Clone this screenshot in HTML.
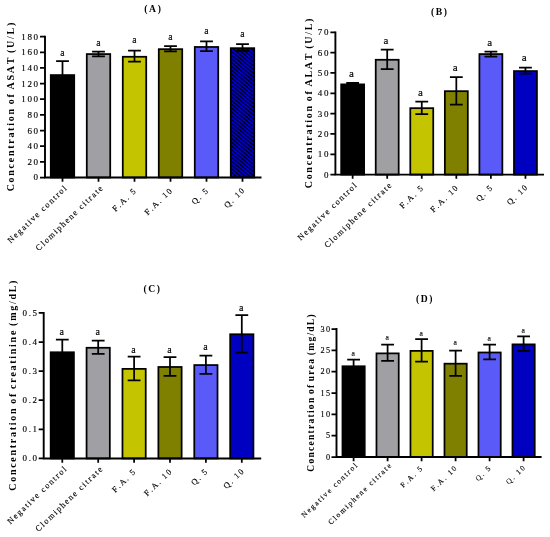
<!DOCTYPE html>
<html><head><meta charset="utf-8"><title>Figure</title>
<style>
html,body{margin:0;padding:0;background:#fff;}
svg{display:block;will-change:transform;}
text{font-family:"Liberation Serif",serif;font-kerning:none;fill:#000;stroke:#000;stroke-width:0.14px;}
.b{font-weight:bold;stroke:none;}
</style></head><body>
<svg width="550" height="537" viewBox="0 0 550 537">
<defs>
<pattern id="hatch" width="2.9" height="2.9" patternUnits="userSpaceOnUse" patternTransform="rotate(40)">
<rect width="2.9" height="2.9" fill="#0000f0"/><rect width="2.9" height="1.35" fill="#000"/>
</pattern>
</defs>
<rect width="550" height="537" fill="#fff"/>

<g id="panelA">
<rect x="50.77" y="75.08" width="23.45" height="102.42" fill="#000000" stroke="#000" stroke-width="1.75"/>
<path d="M62.5 61V76.2M56.1 61H68.9" stroke="#000" stroke-width="1.75" fill="none"/>
<text x="62.5" y="56" font-size="9.6" text-anchor="middle">a</text>
<rect x="86.78" y="54.08" width="23.45" height="123.42" fill="#a0a0a4" stroke="#000" stroke-width="1.75"/>
<path d="M98.5 51.6V56.3M92.1 51.6H104.9M92.1 56.3H104.9" stroke="#000" stroke-width="1.75" fill="none"/>
<text x="98.5" y="46" font-size="9.6" text-anchor="middle">a</text>
<rect x="122.78" y="56.77" width="23.45" height="120.72" fill="#c4c400" stroke="#000" stroke-width="1.75"/>
<path d="M134.5 50.5V61.6M128.1 50.5H140.9M128.1 61.6H140.9" stroke="#000" stroke-width="1.75" fill="none"/>
<text x="134.5" y="43.2" font-size="9.6" text-anchor="middle">a</text>
<rect x="158.78" y="49.17" width="23.45" height="128.32" fill="#808000" stroke="#000" stroke-width="1.75"/>
<path d="M170.5 46V51.3M164.1 46H176.9M164.1 51.3H176.9" stroke="#000" stroke-width="1.75" fill="none"/>
<text x="170.5" y="39.6" font-size="9.6" text-anchor="middle">a</text>
<rect x="194.78" y="46.98" width="23.45" height="130.53" fill="#5a5af8" stroke="#000" stroke-width="1.75"/>
<path d="M206.5 41.4V51.2M200.1 41.4H212.9M200.1 51.2H212.9" stroke="#000" stroke-width="1.75" fill="none"/>
<text x="206.5" y="34" font-size="9.6" text-anchor="middle">a</text>
<rect x="230.78" y="48.17" width="23.45" height="129.32" fill="url(#hatch)" stroke="#000" stroke-width="1.75"/>
<path d="M242.5 44.1V50.8M236.1 44.1H248.9M236.1 50.8H248.9" stroke="#000" stroke-width="1.75" fill="none"/>
<text x="242.5" y="37.1" font-size="9.6" text-anchor="middle">a</text>
<path d="M45 35.73V177.5H261.5" stroke="#000" stroke-width="1.9" fill="none" stroke-linejoin="miter"/>
<text x="39.6" y="180.47" font-size="9" letter-spacing="1.6" text-anchor="end">0</text>
<text x="39.6" y="164.81" font-size="9" letter-spacing="1.6" text-anchor="end">20</text>
<text x="39.6" y="149.16" font-size="9" letter-spacing="1.6" text-anchor="end">40</text>
<text x="39.6" y="133.5" font-size="9" letter-spacing="1.6" text-anchor="end">60</text>
<text x="39.6" y="117.85" font-size="9" letter-spacing="1.6" text-anchor="end">80</text>
<text x="39.6" y="102.19" font-size="9" letter-spacing="1.6" text-anchor="end">100</text>
<text x="39.6" y="86.54" font-size="9" letter-spacing="1.6" text-anchor="end">120</text>
<text x="39.6" y="70.88" font-size="9" letter-spacing="1.6" text-anchor="end">140</text>
<text x="39.6" y="55.23" font-size="9" letter-spacing="1.6" text-anchor="end">160</text>
<text x="39.6" y="39.57" font-size="9" letter-spacing="1.6" text-anchor="end">180</text>
<text transform="translate(68.2 188) rotate(-44)" font-size="8.3" letter-spacing="1.53" text-anchor="end">Negative control</text>
<text transform="translate(104.2 188) rotate(-44)" font-size="8.3" letter-spacing="1.53" text-anchor="end">Clomiphene citrate</text>
<text transform="translate(137.23 190.97) rotate(-44)" font-size="8.3" letter-spacing="1.53" text-anchor="end">F.A. 5</text>
<text transform="translate(173.51 190.69) rotate(-44)" font-size="8.3" letter-spacing="1.53" text-anchor="end">F.A. 10</text>
<text transform="translate(209.51 190.69) rotate(-44)" font-size="8.3" letter-spacing="1.53" text-anchor="end">Q. 5</text>
<text transform="translate(245.94 190.26) rotate(-44)" font-size="8.3" letter-spacing="1.53" text-anchor="end">Q. 10</text>
<path d="M40 177.5H45M40 161.84H45M40 146.19H45M40 130.53H45M40 114.88H45M40 99.22H45M40 83.57H45M40 67.91H45M40 52.26H45M40 36.6H45M62.5 177.5V181.7M98.5 177.5V181.7M134.5 177.5V181.7M170.5 177.5V181.7M206.5 177.5V181.7M242.5 177.5V181.7" stroke="#000" stroke-width="1.75" fill="none"/>
<text class="b" x="153.4" y="12.2" font-size="9.6" letter-spacing="1.6" text-anchor="middle">(A)</text>
<text class="b" transform="translate(14 106.19) rotate(-90)" font-size="10" letter-spacing="1.72" word-spacing="-1.2" text-anchor="middle">Concentration of ASAT (U/L)</text>
</g>
<g id="panelB">
<rect x="341.17" y="84.38" width="22.95" height="90.22" fill="#000000" stroke="#000" stroke-width="1.75"/>
<path d="M352.65 82.9V84.1M346.25 82.9H359.05M346.25 84.1H359.05" stroke="#000" stroke-width="1.75" fill="none"/>
<text x="351.45" y="77" font-size="11" text-anchor="middle">a</text>
<rect x="375.73" y="59.77" width="22.95" height="114.82" fill="#a0a0a4" stroke="#000" stroke-width="1.75"/>
<path d="M387.21 49.7V69.2M380.81 49.7H393.61M380.81 69.2H393.61" stroke="#000" stroke-width="1.75" fill="none"/>
<text x="386.01" y="44.2" font-size="11" text-anchor="middle">a</text>
<rect x="410.29" y="108.17" width="22.95" height="66.42" fill="#c4c400" stroke="#000" stroke-width="1.75"/>
<path d="M421.77 101.6V114.1M415.37 101.6H428.17M415.37 114.1H428.17" stroke="#000" stroke-width="1.75" fill="none"/>
<text x="420.57" y="95.8" font-size="11" text-anchor="middle">a</text>
<rect x="444.85" y="91.17" width="22.95" height="83.42" fill="#808000" stroke="#000" stroke-width="1.75"/>
<path d="M456.33 77V104.6M449.93 77H462.73M449.93 104.6H462.73" stroke="#000" stroke-width="1.75" fill="none"/>
<text x="455.13" y="71.2" font-size="11" text-anchor="middle">a</text>
<rect x="479.41" y="54.08" width="22.95" height="120.52" fill="#5a5af8" stroke="#000" stroke-width="1.75"/>
<path d="M490.89 51.6V56.5M484.49 51.6H497.29M484.49 56.5H497.29" stroke="#000" stroke-width="1.75" fill="none"/>
<text x="489.69" y="45.6" font-size="11" text-anchor="middle">a</text>
<rect x="513.98" y="71.08" width="22.95" height="103.52" fill="#0000c0" stroke="#000" stroke-width="1.75"/>
<path d="M525.45 67.5V73.7M519.05 67.5H531.85M519.05 73.7H531.85" stroke="#000" stroke-width="1.75" fill="none"/>
<text x="524.25" y="61.4" font-size="11" text-anchor="middle">a</text>
<path d="M335.4 31.42V174.6H544" stroke="#000" stroke-width="1.9" fill="none" stroke-linejoin="miter"/>
<text x="330" y="177.57" font-size="9" letter-spacing="1.6" text-anchor="end">0</text>
<text x="330" y="157.24" font-size="9" letter-spacing="1.6" text-anchor="end">10</text>
<text x="330" y="136.91" font-size="9" letter-spacing="1.6" text-anchor="end">20</text>
<text x="330" y="116.58" font-size="9" letter-spacing="1.6" text-anchor="end">30</text>
<text x="330" y="96.26" font-size="9" letter-spacing="1.6" text-anchor="end">40</text>
<text x="330" y="75.93" font-size="9" letter-spacing="1.6" text-anchor="end">50</text>
<text x="330" y="55.6" font-size="9" letter-spacing="1.6" text-anchor="end">60</text>
<text x="330" y="35.27" font-size="9" letter-spacing="1.6" text-anchor="end">70</text>
<text transform="translate(358.35 185.1) rotate(-44)" font-size="8.3" letter-spacing="1.53" text-anchor="end">Negative control</text>
<text transform="translate(392.91 185.1) rotate(-44)" font-size="8.3" letter-spacing="1.53" text-anchor="end">Clomiphene citrate</text>
<text transform="translate(424.5 188.07) rotate(-44)" font-size="8.3" letter-spacing="1.53" text-anchor="end">F.A. 5</text>
<text transform="translate(459.34 187.79) rotate(-44)" font-size="8.3" letter-spacing="1.53" text-anchor="end">F.A. 10</text>
<text transform="translate(493.9 187.79) rotate(-44)" font-size="8.3" letter-spacing="1.53" text-anchor="end">Q. 5</text>
<text transform="translate(528.89 187.36) rotate(-44)" font-size="8.3" letter-spacing="1.53" text-anchor="end">Q. 10</text>
<path d="M330.4 174.6H335.4M330.4 154.27H335.4M330.4 133.94H335.4M330.4 113.61H335.4M330.4 93.29H335.4M330.4 72.96H335.4M330.4 52.63H335.4M330.4 32.3H335.4M352.65 174.6V178.8M387.21 174.6V178.8M421.77 174.6V178.8M456.33 174.6V178.8M490.89 174.6V178.8M525.45 174.6V178.8" stroke="#000" stroke-width="1.75" fill="none"/>
<text class="b" x="439.8" y="15" font-size="9.6" letter-spacing="1.6" text-anchor="middle">(B)</text>
<text class="b" transform="translate(311.8 102.59) rotate(-90)" font-size="10" letter-spacing="1.72" word-spacing="-1.2" text-anchor="middle">Concentration of ALAT (U/L)</text>
</g>
<g id="panelC">
<rect x="50.67" y="352.27" width="23.25" height="106.18" fill="#000000" stroke="#000" stroke-width="1.75"/>
<path d="M62.3 339.6V353.4M55.9 339.6H68.7" stroke="#000" stroke-width="1.75" fill="none"/>
<text x="61.8" y="334.7" font-size="10" text-anchor="middle">a</text>
<rect x="86.57" y="347.77" width="23.25" height="110.68" fill="#a0a0a4" stroke="#000" stroke-width="1.75"/>
<path d="M98.2 340.7V353.8M91.8 340.7H104.6M91.8 353.8H104.6" stroke="#000" stroke-width="1.75" fill="none"/>
<text x="97.7" y="334.7" font-size="10" text-anchor="middle">a</text>
<rect x="122.47" y="368.88" width="23.25" height="89.57" fill="#c4c400" stroke="#000" stroke-width="1.75"/>
<path d="M134.1 356.6V380.4M127.7 356.6H140.5M127.7 380.4H140.5" stroke="#000" stroke-width="1.75" fill="none"/>
<text x="133.6" y="352.7" font-size="10" text-anchor="middle">a</text>
<rect x="158.38" y="366.98" width="23.25" height="91.47" fill="#808000" stroke="#000" stroke-width="1.75"/>
<path d="M170 357V375.9M163.6 357H176.4M163.6 375.9H176.4" stroke="#000" stroke-width="1.75" fill="none"/>
<text x="169.5" y="352.7" font-size="10" text-anchor="middle">a</text>
<rect x="194.27" y="365.07" width="23.25" height="93.38" fill="#5a5af8" stroke="#000" stroke-width="1.75"/>
<path d="M205.9 355.6V373.8M199.5 355.6H212.3M199.5 373.8H212.3" stroke="#000" stroke-width="1.75" fill="none"/>
<text x="205.4" y="349.8" font-size="10" text-anchor="middle">a</text>
<rect x="230.18" y="334.27" width="23.25" height="124.18" fill="#0000c0" stroke="#000" stroke-width="1.75"/>
<path d="M241.8 315V352.7M235.4 315H248.2M235.4 352.7H248.2" stroke="#000" stroke-width="1.75" fill="none"/>
<text x="241.3" y="311" font-size="10" text-anchor="middle">a</text>
<path d="M43.7 312.02V458.45H261.2" stroke="#000" stroke-width="1.9" fill="none" stroke-linejoin="miter"/>
<text x="38.6" y="461.42" font-size="9" letter-spacing="1.6" text-anchor="end">0.0</text>
<text x="38.6" y="432.31" font-size="9" letter-spacing="1.6" text-anchor="end">0.1</text>
<text x="38.6" y="403.2" font-size="9" letter-spacing="1.6" text-anchor="end">0.2</text>
<text x="38.6" y="374.09" font-size="9" letter-spacing="1.6" text-anchor="end">0.3</text>
<text x="38.6" y="344.98" font-size="9" letter-spacing="1.6" text-anchor="end">0.4</text>
<text x="38.6" y="315.87" font-size="9" letter-spacing="1.6" text-anchor="end">0.5</text>
<text transform="translate(68 468.95) rotate(-44)" font-size="8.3" letter-spacing="1.53" text-anchor="end">Negative control</text>
<text transform="translate(103.9 468.95) rotate(-44)" font-size="8.3" letter-spacing="1.53" text-anchor="end">Clomiphene citrate</text>
<text transform="translate(136.83 471.92) rotate(-44)" font-size="8.3" letter-spacing="1.53" text-anchor="end">F.A. 5</text>
<text transform="translate(173.01 471.64) rotate(-44)" font-size="8.3" letter-spacing="1.53" text-anchor="end">F.A. 10</text>
<text transform="translate(208.91 471.64) rotate(-44)" font-size="8.3" letter-spacing="1.53" text-anchor="end">Q. 5</text>
<text transform="translate(245.24 471.21) rotate(-44)" font-size="8.3" letter-spacing="1.53" text-anchor="end">Q. 10</text>
<path d="M38.7 458.45H43.7M38.7 429.34H43.7M38.7 400.23H43.7M38.7 371.12H43.7M38.7 342.01H43.7M38.7 312.9H43.7M62.3 458.45V462.65M98.2 458.45V462.65M134.1 458.45V462.65M170 458.45V462.65M205.9 458.45V462.65M241.8 458.45V462.65" stroke="#000" stroke-width="1.75" fill="none"/>
<text class="b" x="152.5" y="292.2" font-size="9.6" letter-spacing="1.6" text-anchor="middle">(C)</text>
<text class="b" transform="translate(15.6 384.81) rotate(-90)" font-size="10" letter-spacing="1.72" word-spacing="-1.2" text-anchor="middle">Concentration of creatinine (mg/dL)</text>
</g>
<g id="panelD">
<rect x="342.48" y="366.27" width="22.25" height="90.73" fill="#000000" stroke="#000" stroke-width="1.75"/>
<path d="M353.6 359.7V367.4M347.2 359.7H360" stroke="#000" stroke-width="1.75" fill="none"/>
<text x="353.1" y="356" font-size="7.6" text-anchor="middle" stroke="none">a</text>
<rect x="376.48" y="353.38" width="22.25" height="103.62" fill="#a0a0a4" stroke="#000" stroke-width="1.75"/>
<path d="M387.6 344.5V360.9M381.2 344.5H394M381.2 360.9H394" stroke="#000" stroke-width="1.75" fill="none"/>
<text x="387.1" y="340.2" font-size="7.6" text-anchor="middle" stroke="none">a</text>
<rect x="410.48" y="350.88" width="22.25" height="106.12" fill="#c4c400" stroke="#000" stroke-width="1.75"/>
<path d="M421.6 339.1V361.7M415.2 339.1H428M415.2 361.7H428" stroke="#000" stroke-width="1.75" fill="none"/>
<text x="421.1" y="335.5" font-size="7.6" text-anchor="middle" stroke="none">a</text>
<rect x="444.48" y="363.68" width="22.25" height="93.32" fill="#808000" stroke="#000" stroke-width="1.75"/>
<path d="M455.6 350.5V375.9M449.2 350.5H462M449.2 375.9H462" stroke="#000" stroke-width="1.75" fill="none"/>
<text x="455.1" y="345.1" font-size="7.6" text-anchor="middle" stroke="none">a</text>
<rect x="478.48" y="352.48" width="22.25" height="104.52" fill="#5a5af8" stroke="#000" stroke-width="1.75"/>
<path d="M489.6 344.5V359.3M483.2 344.5H496M483.2 359.3H496" stroke="#000" stroke-width="1.75" fill="none"/>
<text x="489.1" y="340.7" font-size="7.6" text-anchor="middle" stroke="none">a</text>
<rect x="512.48" y="344.38" width="22.25" height="112.62" fill="#0000c0" stroke="#000" stroke-width="1.75"/>
<path d="M523.6 336.4V350.8M517.2 336.4H530M517.2 350.8H530" stroke="#000" stroke-width="1.75" fill="none"/>
<text x="523.1" y="333" font-size="7.6" text-anchor="middle" stroke="none">a</text>
<path d="M336.5 328.12V457H541.6" stroke="#000" stroke-width="1.9" fill="none" stroke-linejoin="miter"/>
<text x="331.6" y="459.71" font-size="8.2" letter-spacing="1.4" text-anchor="end">0</text>
<text x="331.6" y="438.37" font-size="8.2" letter-spacing="1.4" text-anchor="end">5</text>
<text x="331.6" y="417.04" font-size="8.2" letter-spacing="1.4" text-anchor="end">10</text>
<text x="331.6" y="395.71" font-size="8.2" letter-spacing="1.4" text-anchor="end">15</text>
<text x="331.6" y="374.37" font-size="8.2" letter-spacing="1.4" text-anchor="end">20</text>
<text x="331.6" y="353.04" font-size="8.2" letter-spacing="1.4" text-anchor="end">25</text>
<text x="331.6" y="331.71" font-size="8.2" letter-spacing="1.4" text-anchor="end">30</text>
<text transform="translate(358.8 465.3) rotate(-44)" font-size="7.5" letter-spacing="1.6" text-anchor="end">Negative control</text>
<text transform="translate(392.8 465.3) rotate(-44)" font-size="7.5" letter-spacing="1.6" text-anchor="end">Clomiphene citrate</text>
<text transform="translate(423.83 468.27) rotate(-44)" font-size="7.5" letter-spacing="1.6" text-anchor="end">F.A. 5</text>
<text transform="translate(458.11 467.99) rotate(-44)" font-size="7.5" letter-spacing="1.6" text-anchor="end">F.A. 10</text>
<text transform="translate(492.11 467.99) rotate(-44)" font-size="7.5" letter-spacing="1.6" text-anchor="end">Q. 5</text>
<text transform="translate(526.54 467.56) rotate(-44)" font-size="7.5" letter-spacing="1.6" text-anchor="end">Q. 10</text>
<path d="M331.5 457H336.5M331.5 435.67H336.5M331.5 414.33H336.5M331.5 393H336.5M331.5 371.67H336.5M331.5 350.33H336.5M331.5 329H336.5M353.6 457V461.2M387.6 457V461.2M421.6 457V461.2M455.6 457V461.2M489.6 457V461.2M523.6 457V461.2" stroke="#000" stroke-width="1.75" fill="none"/>
<text class="b" x="425" y="301.8" font-size="9.6" letter-spacing="1.6" text-anchor="middle">(D)</text>
<text class="b" transform="translate(314 392.37) rotate(-90)" font-size="9.5" letter-spacing="1.27" word-spacing="-1.2" text-anchor="middle">Concentration of urea (mg/dL)</text>
</g>
</svg></body></html>
